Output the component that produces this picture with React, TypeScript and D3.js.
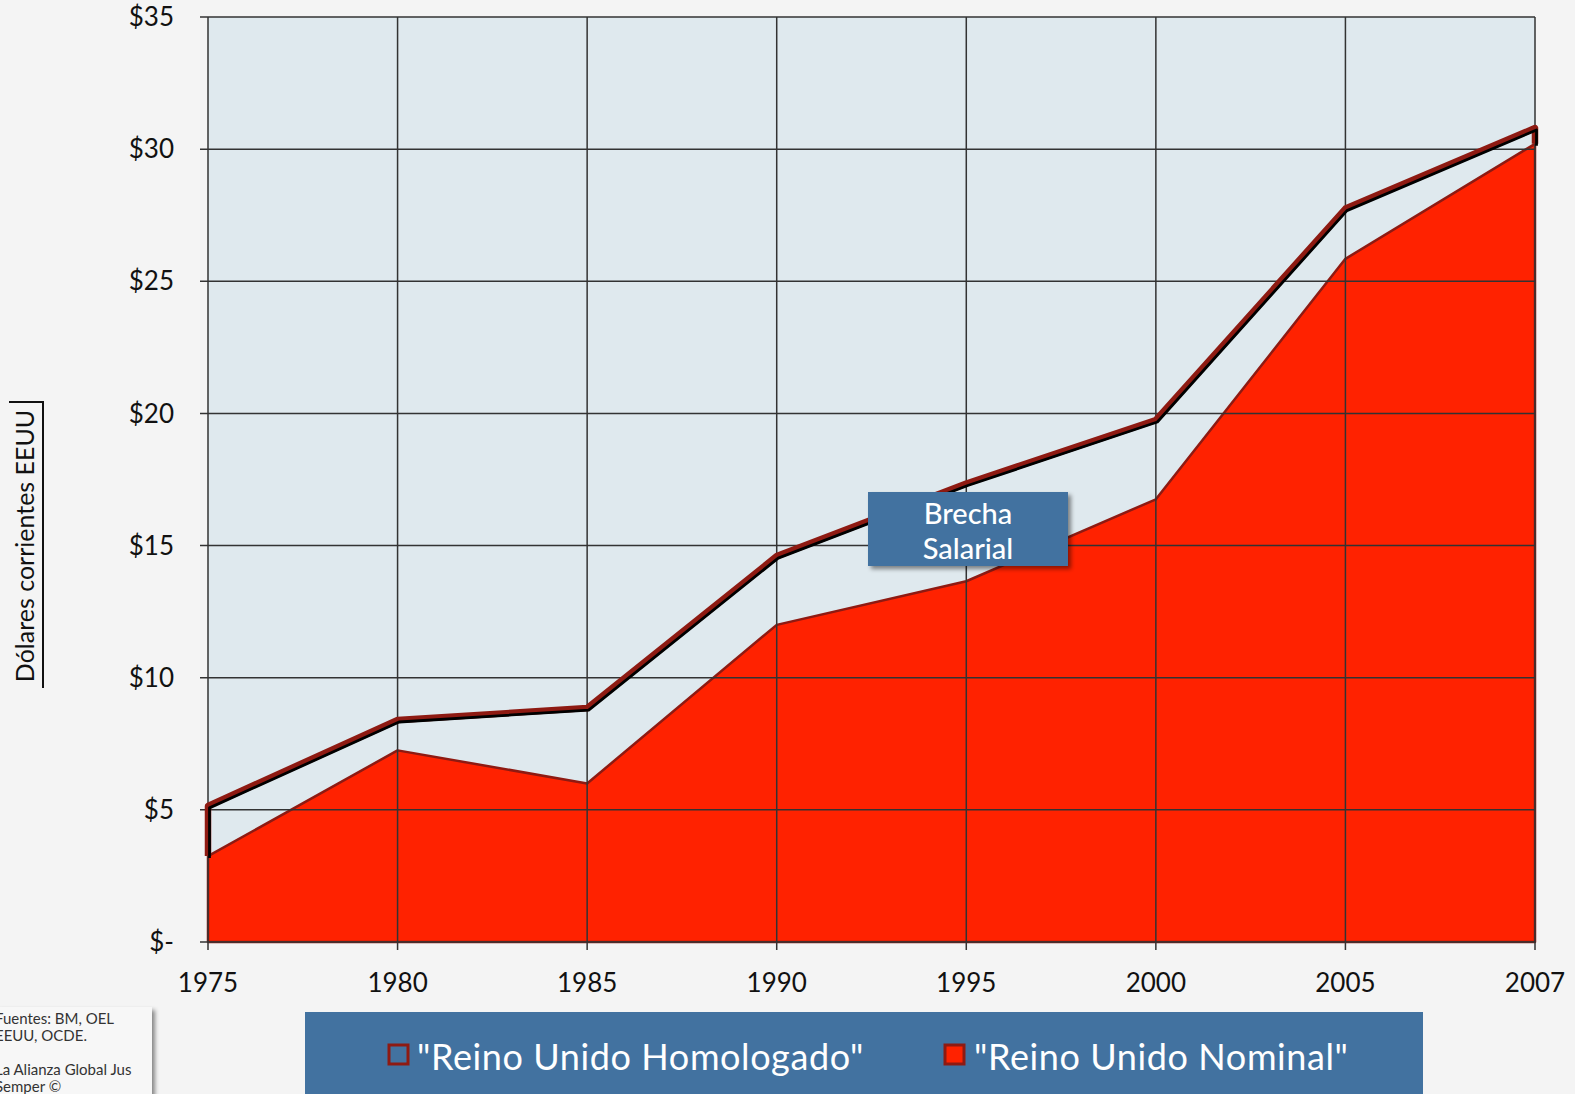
import React, { useEffect } from 'react';
import * as d3 from 'd3';

// years along the x axis (evenly spaced, 2007 included as its own step)
const years = ['1975', '1980', '1985', '1990', '1995', '2000', '2005', '2007'];
// "Reino Unido Homologado"
const homologado = [5.15, 8.4, 8.85, 14.6, 17.35, 19.75, 27.75, 30.8];
// "Reino Unido Nominal"
const nominal = [3.25, 7.25, 6.0, 12.0, 13.65, 16.75, 25.85, 30.2];
const yTicks = [0, 5, 10, 15, 20, 25, 30, 35];
const yTickLabels = ['$-', '$5', '$10', '$15', '$20', '$25', '$30', '$35'];
const legendLabels = ['"Reino Unido Homologado"', '"Reino Unido Nominal"'];
const sourceLines = ['Fuentes: BM, OEL', 'EEUU, OCDE.', '', 'La Alianza Global Jus', 'Semper ©'];

const W = 1575;
const H = 1094;
const plot = { left: 208, right: 1535, top: 17, bottom: 942 };
const FONT = 'Lato, "Open Sans", sans-serif';
const BLUE = '#4272a0';

export default function App() {
  useEffect(() => {
    document.body.style.margin = '0';
    document.body.style.background = '#f4f4f4';
  }, []);

  const x = d3.scalePoint<string>().domain(years).range([plot.left, plot.right]);
  const y = d3.scaleLinear().domain([0, 35]).range([plot.bottom, plot.top]);

  const nomArea = d3.area<number>()
    .x((_, i) => x(years[i])!)
    .y0(y(0))
    .y1(d => y(d))(nominal)!;

  const homPts: [number, number][] = homologado.map((d, i) => [x(years[i])!, y(d)]);
  // outline of the homologado area: down to the nominal at both ends
  const homOutline: [number, number][] = [
    [x(years[0])!, y(nominal[0])],
    ...homPts,
    [x(years[years.length - 1])!, y(nominal[nominal.length - 1])],
  ];
  const line = d3.line();

  return (
    <svg width={W} height={H} style={{ display: 'block', background: '#f4f4f4' }}>
      <defs>
        <filter id="shadow" x="-10%" y="-10%" width="130%" height="140%">
          <feDropShadow dx="3" dy="3" stdDeviation="2" floodColor="#000" floodOpacity="0.45" />
        </filter>
      </defs>

      {/* plot background */}
      <rect x={plot.left} y={plot.top} width={plot.right - plot.left} height={plot.bottom - plot.top} fill="#dfe9ee" />

      {/* nominal area */}
      <path d={nomArea} fill="#ff2200" stroke="#8e1a12" strokeWidth={2.5} strokeLinejoin="round" />

      {/* grid */}
      {yTicks.map(t => (
        <line key={'gy' + t} x1={plot.left - 8} x2={plot.right} y1={y(t)} y2={y(t)} stroke="#333" strokeWidth={1.5} />
      ))}
      {years.map(yr => (
        <line key={'gx' + yr} x1={x(yr)} x2={x(yr)} y1={plot.top} y2={plot.bottom + 8} stroke="#333" strokeWidth={1.5} />
      ))}

      {/* homologado outline: dark red with a black inner line */}
      <path d={line(homOutline)!} fill="none" stroke="#8e1a12" strokeWidth={6.5} strokeLinejoin="round" />
      <path d={line(homOutline)!} fill="none" stroke="#000" strokeWidth={2.8} strokeLinejoin="round" transform="translate(1.5,2)" />

      {/* y tick labels */}
      {yTicks.map((t, i) => (
        <text key={'yl' + t} x={174} y={y(t)} dy="0.35em" textAnchor="end" fontFamily={FONT} fontSize={26} fill="#111">
          {yTickLabels[i]}
        </text>
      ))}
      {/* x tick labels */}
      {years.map(yr => (
        <text key={'xl' + yr} x={x(yr)} y={992} textAnchor="middle" fontFamily={FONT} fontSize={26} fill="#111">
          {yr}
        </text>
      ))}

      {/* y axis title */}
      <text transform="translate(34,546) rotate(-90)" textAnchor="middle" fontFamily={FONT} fontSize={25} fill="#111">
        Dólares corrientes EEUU
      </text>
      <polyline points="9,402 43,402 43,688" fill="none" stroke="#111" strokeWidth={2} />

      {/* Brecha Salarial label */}
      <rect x={868} y={492} width={200} height={74} fill={BLUE} filter="url(#shadow)" />
      <text x={968} y={524} textAnchor="middle" fontFamily={FONT} fontSize={29} fontWeight={500} fill="#fff">Brecha</text>
      <text x={968} y={559} textAnchor="middle" fontFamily={FONT} fontSize={29} fontWeight={500} fill="#fff">Salarial</text>

      {/* source box */}
      <rect x={-5} y={1007} width={157} height={100} fill="#f7f7f7" filter="url(#shadow)" />
      {sourceLines.map((s, i) => (
        <text key={'src' + i} x={-5} y={1024 + i * 17} fontFamily={FONT} fontSize={15} fill="#333">{s}</text>
      ))}

      {/* legend */}
      <rect x={305} y={1012} width={1118} height={90} fill={BLUE} />
      <rect x={389} y={1045} width={19} height={19} fill={BLUE} stroke="#8e1a12" strokeWidth={3} />
      <text x={417} y={1070} fontFamily={FONT} fontSize={36} letterSpacing={0.6} fill="#fff">{legendLabels[0]}</text>
      <rect x={945} y={1045} width={19} height={19} fill="#ff2200" stroke="#8e1a12" strokeWidth={3} />
      <text x={974} y={1070} fontFamily={FONT} fontSize={36} letterSpacing={0.6} fill="#fff">{legendLabels[1]}</text>
    </svg>
  );
}
